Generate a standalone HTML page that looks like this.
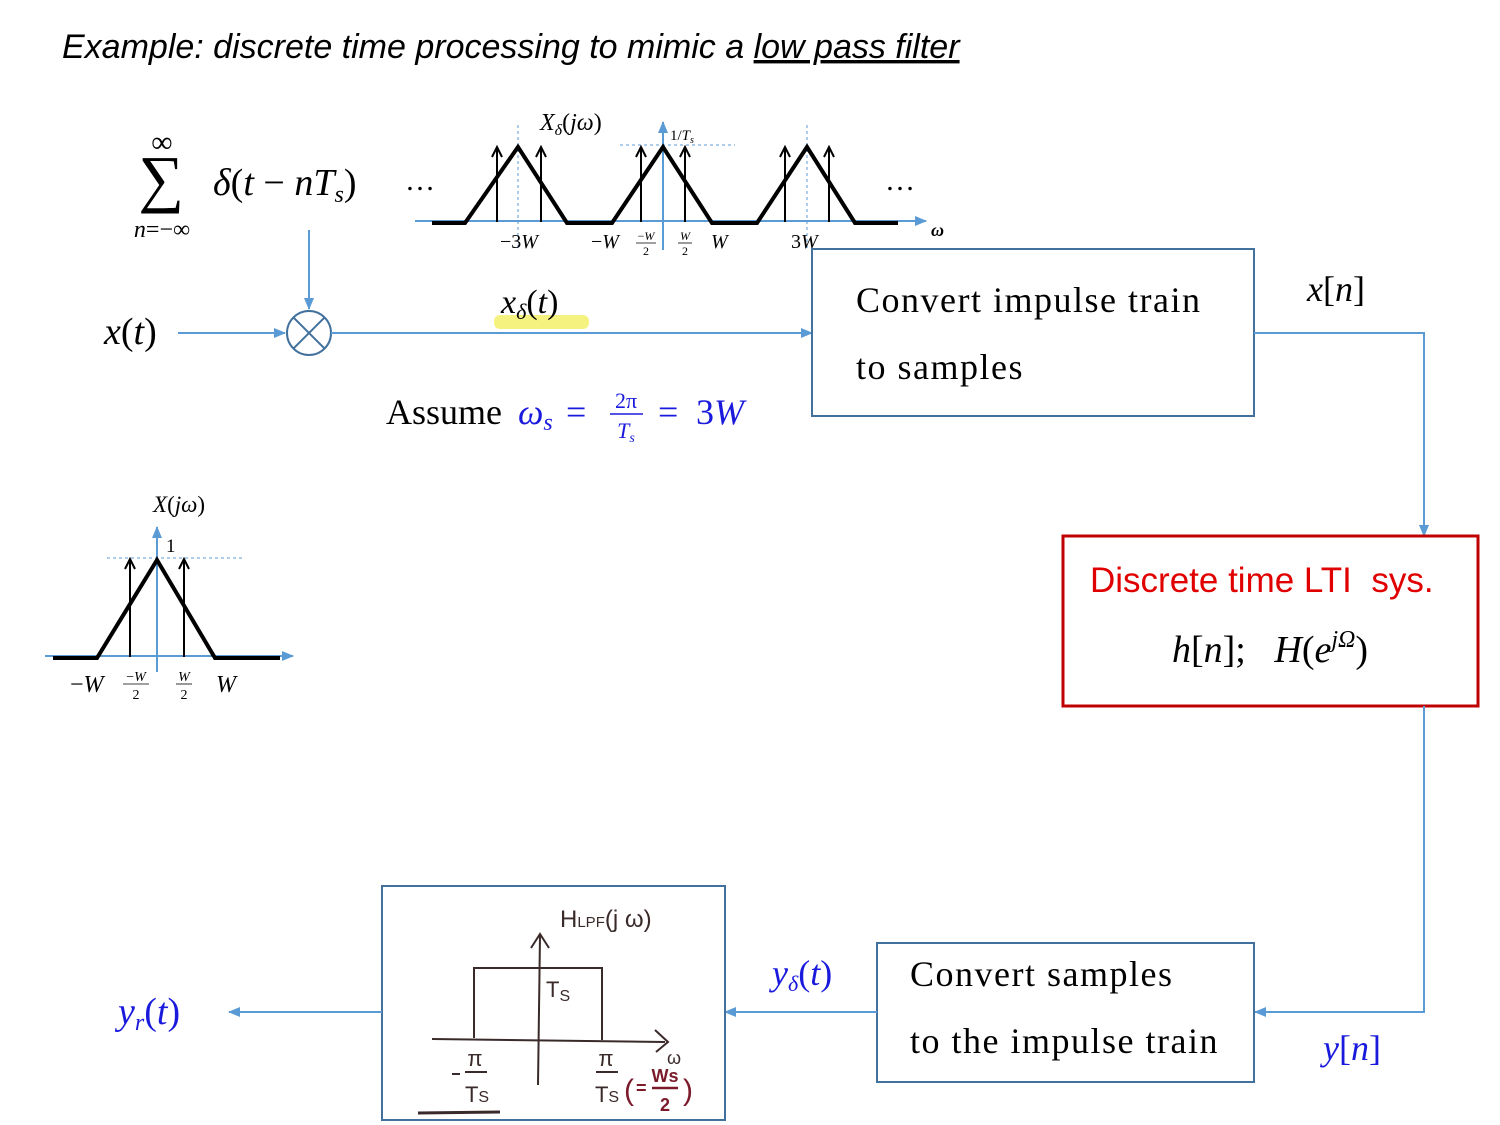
<!DOCTYPE html>
<html><head><meta charset="utf-8"><style>
html,body{margin:0;padding:0;background:#fff;}
svg{display:block;}
.m{font-family:"Liberation Serif",serif;font-style:italic;}
.r{font-family:"Liberation Serif",serif;}
.s{font-family:"Liberation Sans",sans-serif;}
text{white-space:pre;}
</style></head><body>
<svg width="1500" height="1125" viewBox="0 0 1500 1125" xmlns="http://www.w3.org/2000/svg">
<defs>
<marker id="ab" markerWidth="12" markerHeight="10" refX="11" refY="5" orient="auto" markerUnits="userSpaceOnUse"><path d="M0,0 L12,5 L0,10 z" fill="#5b9bd5"/></marker>
</defs>

<text class="s" x="62" y="58" font-size="34" font-style="italic">Example: discrete time processing to mimic a <tspan text-decoration="underline">low pass filter</tspan></text>

<g>
<text class="r" x="162" y="152" font-size="30" text-anchor="middle">∞</text>
<text class="r" x="161" y="200" font-size="64" text-anchor="middle">∑</text>
<text class="m" x="162" y="237" font-size="24" text-anchor="middle">n<tspan font-style="normal">=−∞</tspan></text>
<text class="m" x="213" y="195" font-size="38">δ<tspan font-style="normal">(</tspan>t <tspan font-style="normal">−</tspan> nT<tspan font-size="24" dy="7">s</tspan><tspan font-style="normal" dy="-7">)</tspan></text>
<text class="r" x="405" y="190" font-size="30">…</text>
</g>

<g>
<line x1="415" y1="221" x2="926" y2="221" stroke="#5b9bd5" stroke-width="2" marker-end="url(#ab)"/>
<line x1="663" y1="250" x2="663" y2="122" stroke="#5b9bd5" stroke-width="2" marker-end="url(#ab)"/>
<line x1="518" y1="125" x2="518" y2="250" stroke="#5b9bd5" stroke-width="1" stroke-dasharray="3,3"/>
<line x1="807" y1="125" x2="807" y2="250" stroke="#5b9bd5" stroke-width="1" stroke-dasharray="3,3"/>
<line x1="620" y1="145" x2="735" y2="145" stroke="#5b9bd5" stroke-width="1" stroke-dasharray="3,3"/>
<polyline points="432,223 465,223 518,147 567,223 612,223 663,147 712,223 757,223 807,147 855,223 898,223" fill="none" stroke="#000" stroke-width="4"/>
<g stroke="#000" stroke-width="2" fill="none">
<path d="M497,222 V147 M492,157 L497,147 L502,157"/>
<path d="M541,222 V147 M536,157 L541,147 L546,157"/>
<path d="M641,222 V147 M636,157 L641,147 L646,157"/>
<path d="M685,222 V147 M680,157 L685,147 L690,157"/>
<path d="M785,222 V147 M780,157 L785,147 L790,157"/>
<path d="M829,222 V147 M824,157 L829,147 L834,157"/>
</g>
<text class="m" x="540" y="130" font-size="24">X<tspan font-size="16" dy="5">δ</tspan><tspan font-style="normal" dy="-5">(</tspan>jω<tspan font-style="normal">)</tspan></text>
<text class="m" x="670" y="140" font-size="15"><tspan font-style="normal">1/</tspan>T<tspan font-size="10" dy="3">s</tspan></text>
<text class="m" x="500" y="248" font-size="20"><tspan font-style="normal">−3</tspan>W</text>
<text class="m" x="591" y="248" font-size="20"><tspan font-style="normal">−</tspan>W</text>
<text class="m" x="646" y="240" font-size="12" text-anchor="middle"><tspan font-style="normal">−</tspan>W</text>
<line x1="636" y1="243" x2="656" y2="243" stroke="#000" stroke-width="0.8"/>
<text class="r" x="646" y="255" font-size="12" text-anchor="middle">2</text>
<text class="m" x="685" y="240" font-size="12" text-anchor="middle">W</text>
<line x1="678" y1="243" x2="692" y2="243" stroke="#000" stroke-width="0.8"/>
<text class="r" x="685" y="255" font-size="12" text-anchor="middle">2</text>
<text class="m" x="711" y="248" font-size="20">W</text>
<text class="m" x="791" y="248" font-size="20"><tspan font-style="normal">3</tspan>W</text>
<text class="r" x="885" y="190" font-size="30">…</text>
<text class="m" x="931" y="236" font-size="18" font-weight="bold">ω</text>
</g>

<text class="m" x="104" y="344" font-size="38">x<tspan font-style="normal">(</tspan>t<tspan font-style="normal">)</tspan></text>
<line x1="178" y1="333" x2="285" y2="333" stroke="#5b9bd5" stroke-width="2" marker-end="url(#ab)"/>
<line x1="309" y1="230" x2="309" y2="309" stroke="#5b9bd5" stroke-width="2" marker-end="url(#ab)"/>
<g stroke="#41719c" stroke-width="2" fill="none">
<circle cx="309" cy="333" r="22"/>
<line x1="293.4" y1="317.4" x2="324.6" y2="348.6"/>
<line x1="324.6" y1="317.4" x2="293.4" y2="348.6"/>
</g>
<line x1="331" y1="333" x2="812" y2="333" stroke="#5b9bd5" stroke-width="2" marker-end="url(#ab)"/>
<rect x="494" y="315" width="95" height="14" rx="6" fill="#f5f06a" opacity="0.85"/>
<text class="m" x="501" y="313" font-size="34">x<tspan font-size="22" dy="6">δ</tspan><tspan font-style="normal" dy="-6">(</tspan>t<tspan font-style="normal">)</tspan></text>

<g>
<text class="r" x="386" y="424" font-size="36">Assume</text>
<text class="m" x="518" y="424" font-size="36" fill="#1a1adc">ω<tspan font-size="24" dy="6">s</tspan></text>
<text class="r" x="566" y="424" font-size="36" fill="#1a1adc">=</text>
<text class="r" x="626" y="408" font-size="22" fill="#1a1adc" text-anchor="middle">2π</text>
<line x1="610" y1="414" x2="643" y2="414" stroke="#1a1adc" stroke-width="1.5"/>
<text class="m" x="626" y="438" font-size="22" fill="#1a1adc" text-anchor="middle">T<tspan font-size="14" dy="4">s</tspan></text>
<text class="r" x="658" y="424" font-size="36" fill="#1a1adc">=</text>
<text class="m" x="696" y="424" font-size="36" fill="#1a1adc"><tspan font-style="normal">3</tspan>W</text>
</g>

<g>
<rect x="812" y="249" width="442" height="167" fill="#fff" stroke="#41719c" stroke-width="2"/>
<text class="r" x="856" y="312" font-size="36" letter-spacing="1.5">Convert impulse train</text>
<text class="r" x="856" y="379" font-size="36" letter-spacing="1.5">to samples</text>
</g>
<text class="m" x="1307" y="301" font-size="36">x<tspan font-style="normal">[</tspan>n<tspan font-style="normal">]</tspan></text>
<polyline points="1254,333 1424,333 1424,536" fill="none" stroke="#5b9bd5" stroke-width="2" marker-end="url(#ab)"/>

<g>
<rect x="1063" y="536" width="415" height="170" fill="#fff" stroke="#c00000" stroke-width="3"/>
<text class="s" x="1090" y="592" font-size="35" fill="#e00000">Discrete time LTI  sys.</text>
<text class="m" x="1172" y="662" font-size="38">h<tspan font-style="normal">[</tspan>n<tspan font-style="normal">];   </tspan>H<tspan font-style="normal">(</tspan>e<tspan font-size="24" dy="-15">jΩ</tspan><tspan font-style="normal" dy="15">)</tspan></text>
</g>
<polyline points="1424,706 1424,1012 1255,1012" fill="none" stroke="#5b9bd5" stroke-width="2" marker-end="url(#ab)"/>
<text class="m" x="1323" y="1060" font-size="36" fill="#1a1adc">y<tspan font-style="normal">[</tspan>n<tspan font-style="normal">]</tspan></text>

<g>
<rect x="877" y="943" width="377" height="139" fill="#fff" stroke="#41719c" stroke-width="2"/>
<text class="r" x="910" y="986" font-size="36" letter-spacing="1.5">Convert samples</text>
<text class="r" x="910" y="1053" font-size="36" letter-spacing="1.5">to the impulse train</text>
</g>
<line x1="877" y1="1012" x2="725" y2="1012" stroke="#5b9bd5" stroke-width="2" marker-end="url(#ab)"/>
<text class="m" x="772" y="985" font-size="36" fill="#1a1adc">y<tspan font-size="22" dy="6">δ</tspan><tspan font-style="normal" dy="-6">(</tspan>t<tspan font-style="normal">)</tspan></text>

<g>
<rect x="382" y="886" width="343" height="234" fill="#fff" stroke="#41719c" stroke-width="2"/>
<g stroke="#3a2a2a" stroke-width="2" fill="none">
<line x1="538" y1="1085" x2="540" y2="935"/>
<path d="M531,948 L540,934 L549,948"/>
<polyline points="474,1038 474,968 602,968 602,1040"/>
<line x1="432" y1="1039" x2="665" y2="1042"/>
<path d="M655,1030 L668,1042 L656,1052"/>
<line x1="418" y1="1113" x2="500" y2="1112" stroke-width="3"/>
</g>
<text class="s" x="560" y="927" font-size="24" fill="#3a2a2a">H<tspan font-size="15">LPF</tspan>(j ω)</text>
<text class="s" x="546" y="997" font-size="22" fill="#3a2a2a">T<tspan font-size="16" dy="4">S</tspan></text>
<text class="s" x="475" y="1066" font-size="22" fill="#3a2a2a" text-anchor="middle">π</text>
<line x1="465" y1="1072" x2="487" y2="1072" stroke="#3a2a2a" stroke-width="2"/>
<line x1="452" y1="1074" x2="460" y2="1074" stroke="#3a2a2a" stroke-width="2"/>
<text class="s" x="477" y="1102" font-size="22" fill="#3a2a2a" text-anchor="middle">T<tspan font-size="16">S</tspan></text>
<text class="s" x="606" y="1066" font-size="22" fill="#3a2a2a" text-anchor="middle">π</text>
<line x1="596" y1="1072" x2="618" y2="1072" stroke="#3a2a2a" stroke-width="2"/>
<text class="s" x="607" y="1102" font-size="22" fill="#3a2a2a" text-anchor="middle">T<tspan font-size="16">S</tspan></text>
<text class="s" x="667" y="1064" font-size="18" fill="#3a2a2a">ω</text>
<text class="s" x="624" y="1100" font-size="30" fill="#7a1a2a">(</text>
<text class="s" x="636" y="1094" font-size="18" fill="#7a1a2a" font-weight="bold">=</text>
<text class="s" x="665" y="1082" font-size="18" fill="#7a1a2a" text-anchor="middle" font-weight="bold">Ws</text>
<line x1="652" y1="1088" x2="678" y2="1088" stroke="#7a1a2a" stroke-width="2.5"/>
<text class="s" x="665" y="1111" font-size="18" fill="#7a1a2a" text-anchor="middle" font-weight="bold">2</text>
<text class="s" x="683" y="1100" font-size="30" fill="#7a1a2a">)</text>
</g>
<line x1="382" y1="1012" x2="229" y2="1012" stroke="#5b9bd5" stroke-width="2" marker-end="url(#ab)"/>
<text class="m" x="118" y="1024" font-size="38" fill="#1a1adc">y<tspan font-size="24" dy="6">r</tspan><tspan font-style="normal" dy="-6">(</tspan>t<tspan font-style="normal">)</tspan></text>

<g>
<line x1="45" y1="656" x2="293" y2="656" stroke="#5b9bd5" stroke-width="2" marker-end="url(#ab)"/>
<line x1="157" y1="672" x2="157" y2="527" stroke="#5b9bd5" stroke-width="2" marker-end="url(#ab)"/>
<line x1="107" y1="558" x2="243" y2="558" stroke="#5b9bd5" stroke-width="1" stroke-dasharray="3,3"/>
<polyline points="53,658 97,658 157,560 215,658 280,658" fill="none" stroke="#000" stroke-width="4"/>
<g stroke="#000" stroke-width="2" fill="none">
<path d="M130,657 V559 M125,569 L130,559 L135,569"/>
<path d="M184,657 V559 M179,569 L184,559 L189,569"/>
</g>
<text class="m" x="153" y="512" font-size="23">X<tspan font-style="normal">(</tspan>jω<tspan font-style="normal">)</tspan></text>
<text class="r" x="166" y="552" font-size="19">1</text>
<text class="m" x="70" y="692" font-size="24"><tspan font-style="normal">−</tspan>W</text>
<text class="m" x="136" y="681" font-size="14" text-anchor="middle"><tspan font-style="normal">−</tspan>W</text>
<line x1="123" y1="684" x2="149" y2="684" stroke="#000" stroke-width="0.8"/>
<text class="r" x="136" y="699" font-size="14" text-anchor="middle">2</text>
<text class="m" x="184" y="681" font-size="14" text-anchor="middle">W</text>
<line x1="176" y1="684" x2="192" y2="684" stroke="#000" stroke-width="0.8"/>
<text class="r" x="184" y="699" font-size="14" text-anchor="middle">2</text>
<text class="m" x="216" y="692" font-size="24">W</text>
</g>
</svg>
</body></html>
